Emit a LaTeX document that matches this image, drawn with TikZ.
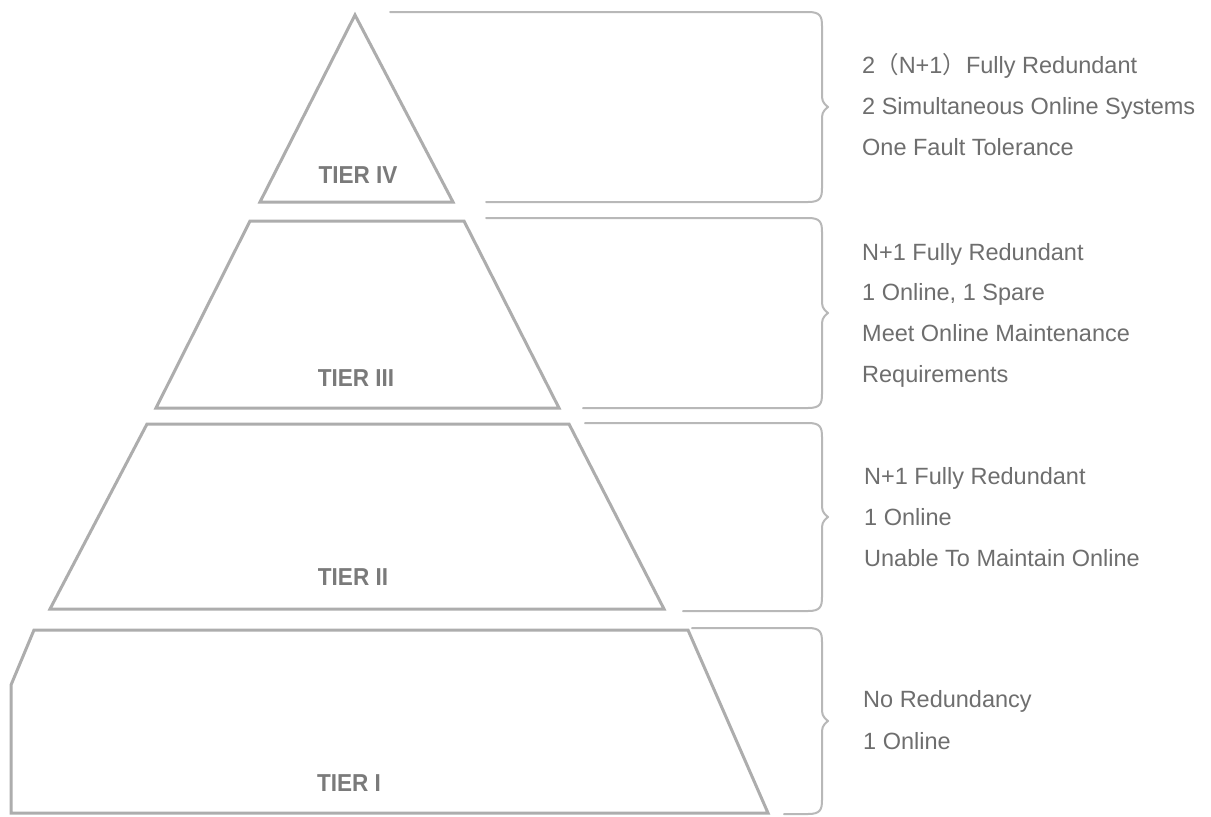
\documentclass[tikz,border=0pt]{standalone}
\usepackage{fontspec}
\setmainfont{Liberation Sans}
\newfontfamily\cjk{Noto Sans CJK SC}
\newfontfamily\tierfont[FakeStretch=0.92]{Liberation Sans}
\definecolor{shapegray}{HTML}{ADADAD}
\definecolor{bracegray}{HTML}{B8B8B8}
\definecolor{txtgray}{HTML}{6E6E6E}
\definecolor{tiergray}{HTML}{7A7A7A}
\tikzset{
  tiershape/.style={draw=shapegray, line width=3pt, line join=miter},
  bracepath/.style={draw=bracegray, line width=2pt, line join=round, line cap=round},
  desc/.style={anchor=base west, inner sep=0pt, text=txtgray, font=\fontsize{23.5}{28}\selectfont},
  tierlbl/.style={anchor=base, inner sep=0pt, text=tiergray, font=\tierfont\fontsize{24.5}{28}\bfseries\selectfont},
}
\newcommand{\bracedraw}[4]{% xs_top, y_top, xs_bottom, y_bottom
  \pgfmathsetmacro{\ymid}{(#2+#4)/2}
  \draw[bracepath] (#1,#2) -- (808,#2) .. controls (820,#2) and (822,#2+4) .. (822,#2+14)
    -- (822,\ymid-10) .. controls (822,\ymid-4) and (827,\ymid-1) .. (828,\ymid)
    .. controls (827,\ymid+1) and (822,\ymid+4) .. (822,\ymid+10)
    -- (822,#4-14) .. controls (822,#4-4) and (820,#4) .. (808,#4) -- (#3,#4);
}
\begin{document}
\begin{tikzpicture}[x=1pt,y=-1pt]
\useasboundingbox[fill=white] (0,0) rectangle (1211,817);
% pyramid tiers
\draw[tiershape] (355,15) -- (453,202) -- (260,202) -- cycle;
\draw[tiershape] (250,221) -- (464,221) -- (559,408) -- (156,408) -- cycle;
\draw[tiershape] (147,424) -- (569,424) -- (664,609) -- (50,609) -- cycle;
\draw[tiershape] (34,630) -- (688,630) -- (768,813) -- (11,813) -- (11,685) -- cycle;
% tier labels
\node[tierlbl] (l4) at (358,183) {TIER IV};
\node[tierlbl] (l3) at (356,386) {TIER III};
\node[tierlbl] (l2) at (353,585) {TIER II};
\node[tierlbl] (l1) at (349,791) {TIER I};
% braces
\bracedraw{390}{12}{486}{202}
\bracedraw{486}{218}{583}{408}
\bracedraw{585}{423}{683}{611}
\bracedraw{692}{628}{784}{814}
% descriptions
\node[desc] (a1) at (862,73.5) {2{\cjk （}N+1{\cjk ）}Fully Redundant};
\node[desc] (a2) at (862,114.5) {2 Simultaneous Online Systems};
\node[desc] (a3) at (862,155.5) {One Fault Tolerance};
\node[desc] (b1) at (862,260.5) {N+1 Fully Redundant};
\node[desc] (b2) at (862,300.5) {1 Online, 1 Spare};
\node[desc] (b3) at (862,341.5) {Meet Online Maintenance};
\node[desc] (b4) at (862,382.5) {Requirements};
\node[desc] (c1) at (864,484.5) {N+1 Fully Redundant};
\node[desc] (c2) at (864,525.5) {1 Online};
\node[desc] (c3) at (864,566.5) {Unable To Maintain Online};
\node[desc] (d1) at (863,707) {No Redundancy};
\node[desc] (d2) at (863,749) {1 Online};
\end{tikzpicture}
\end{document}
